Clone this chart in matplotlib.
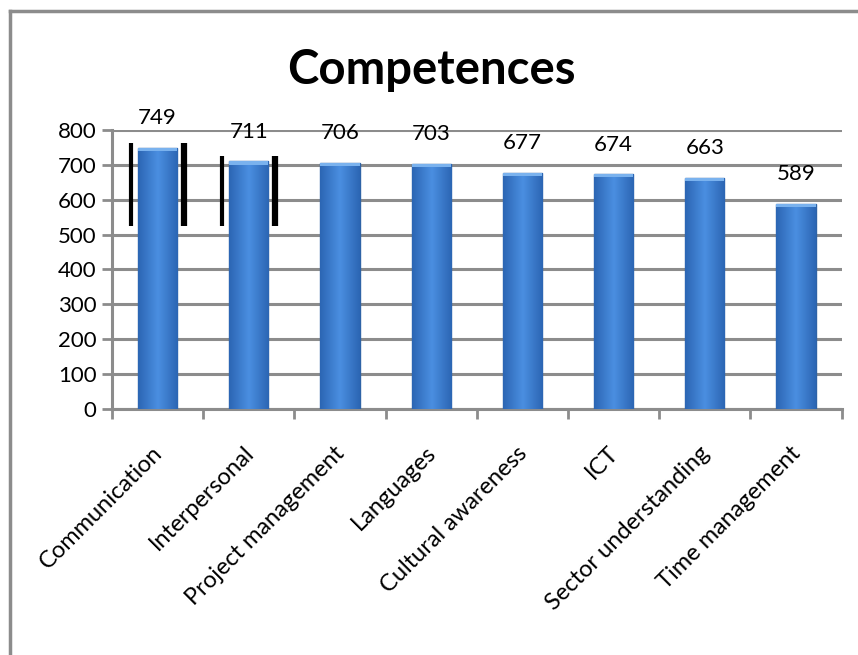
import matplotlib
matplotlib.use("Agg")
import matplotlib.pyplot as plt
from matplotlib.lines import Line2D
from matplotlib.colors import LinearSegmentedColormap
import matplotlib.transforms as mtransforms
import numpy as np

categories = ["Communication", "Interpersonal", "Project management", "Languages",
              "Cultural awareness", "ICT", "Sector understanding", "Time management"]
values = [749, 711, 706, 703, 677, 674, 663, 589]
y_ticks = [0, 100, 200, 300, 400, 500, 600, 700, 800]

# black vertical marker pairs drawn around the first two bars
bracket_idx = [0, 1]
bracket_low = [524, 524]
bracket_high = [762, 725]

plt.rcParams['font.family'] = ['Lato', 'DejaVu Sans']

fig = plt.figure(figsize=(8.58, 6.55), dpi=100)
ax = fig.add_axes([0.1305, 0.3756, 0.981 - 0.1305, 0.8015 - 0.3756])

x = np.arange(len(categories))
bars = ax.bar(x, values, width=0.43, color='#3D80D4', edgecolor='#2E63A6', linewidth=1.0, zorder=3)

# horizontal gradient inside each bar
grad = np.linspace(0, 1, 64)
grad = 1 - np.abs(grad - 0.5) * 2
grad = grad[np.newaxis, :]
cmap = LinearSegmentedColormap.from_list('bar', ['#2C66B4', '#4A8EE0'])
for b in bars:
    im = ax.imshow(grad, extent=[b.get_x(), b.get_x() + b.get_width(), 0, b.get_height()],
                   aspect='auto', cmap=cmap, zorder=3.5)
    im.set_clip_path(b)

# lighter top cap to mimic bevel
ax.bar(x, [10] * len(values), bottom=np.array(values) - 10, width=0.43,
       color='#7AB2EE', edgecolor='none', zorder=4)

for xi, v in zip(x, values):
    ax.annotate(str(v), (xi, v), xytext=(0, 14), textcoords='offset points',
                ha='center', va='bottom', fontsize=16, color='black', zorder=5)

for i, lo, hi in zip(bracket_idx, bracket_low, bracket_high):
    ax.plot([i - 0.29, i - 0.29], [lo, hi], color='black', lw=3, zorder=6, solid_capstyle='butt')
    ax.plot([i + 0.29, i + 0.29], [lo, hi], color='black', lw=4.5, zorder=6, solid_capstyle='butt')

ax.set_xlim(-0.5, len(categories) - 0.5)
ax.set_ylim(0, 800)
ax.set_yticks(y_ticks)
ax.set_yticklabels([str(t) for t in y_ticks], fontsize=16)
ax.yaxis.grid(True, color='#8C8C8C', lw=2.2, zorder=0)
ax.set_axisbelow(True)

ax.set_xticks(np.arange(len(categories) + 1) - 0.5)
ax.set_xticklabels([])
ax.set_xticks(x, minor=True)
ax.set_xticklabels(categories, minor=True, rotation=45, ha='right',
                   rotation_mode='anchor', fontsize=17)
ax.tick_params(axis='x', which='minor', length=0, pad=24)
ax.tick_params(axis='x', which='major', length=7, width=2, color='#8C8C8C')
ax.tick_params(axis='y', length=7, width=2, color='#8C8C8C', pad=4)

offset = mtransforms.ScaledTranslation(-6 / 100, 0, fig.dpi_scale_trans)
for lbl in ax.get_xticklabels(minor=True):
    lbl.set_transform(lbl.get_transform() + offset)

for s in ['top', 'right']:
    ax.spines[s].set_visible(False)
for s in ['left', 'bottom']:
    ax.spines[s].set_color('#8C8C8C')
    ax.spines[s].set_linewidth(2.2)

fig.text(0.503, 0.893, "Competences", ha='center', va='center',
         fontsize=34, fontweight='bold', color='black')

# outer frame (top and left edges)
fig.add_artist(Line2D([9.5 / 858, 1.0], [1 - 10.5 / 655, 1 - 10.5 / 655],
                      color='#8C8C8C', lw=2.5, transform=fig.transFigure))
fig.add_artist(Line2D([9.5 / 858, 9.5 / 858], [0, 1 - 10.5 / 655],
                      color='#8C8C8C', lw=2.5, transform=fig.transFigure))

fig.savefig("out.png", dpi=100)
